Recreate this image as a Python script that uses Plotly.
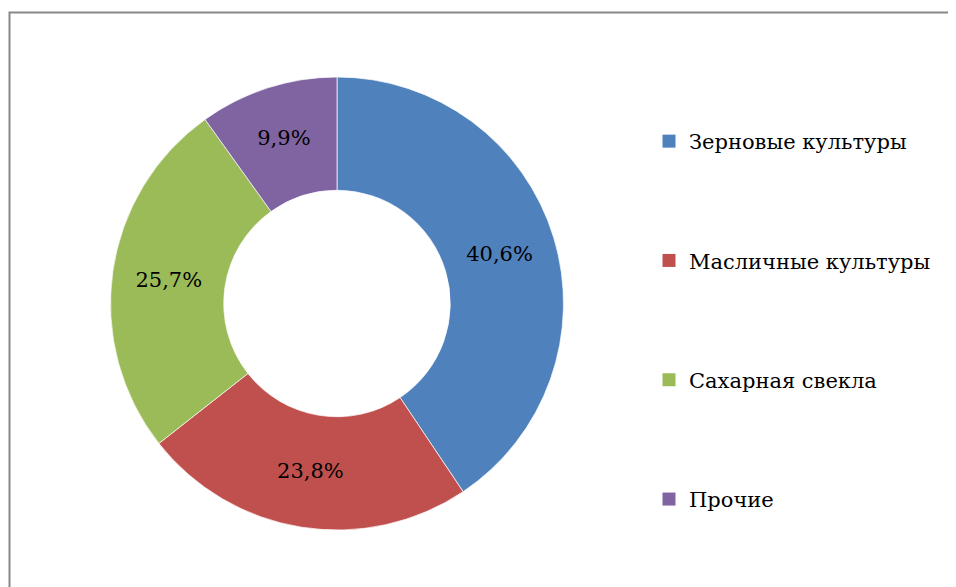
import plotly.graph_objects as go

categories = ["Зерновые культуры", "Масличные культуры", "Сахарная свекла", "Прочие"]
values = [40.6, 23.8, 25.7, 9.9]
value_labels = ["40,6%", "23,8%", "25,7%", "9,9%"]
colors = ["#4F81BD", "#C0504D", "#9BBB59", "#8064A2"]

W, H = 956, 587
OFF = 8  # page body margin offset
cx, cy, r = 337 - OFF, 303.5 - OFF, 226.5
SERIF = "DejaVu Serif"

fig = go.Figure()
fig.add_trace(go.Pie(
    labels=categories, values=values, text=value_labels,
    texttemplate="%{text}", textinfo="text",
    textposition="inside", insidetextorientation="horizontal",
    textfont=dict(family=SERIF, size=21, color="black"),
    marker=dict(colors=colors, line=dict(color="white", width=0.7)),
    hole=0.5, sort=False, direction="clockwise", rotation=0,
    showlegend=False, hoverinfo="label+percent",
    domain=dict(x=[(cx - r) / W, (cx + r) / W], y=[1 - (cy + r) / H, 1 - (cy - r) / H]),
))
for i, (c, col) in enumerate(zip(categories, colors)):
    fig.add_trace(go.Scatter(
        x=[None], y=[None], mode="markers", name=c,
        marker=dict(symbol="square", size=13, color=col),
        legendgroup=str(i), showlegend=True,
    ))

fig.update_layout(
    width=W, height=H,
    margin=dict(l=0, r=0, t=0, b=0),
    paper_bgcolor="white", plot_bgcolor="white",
    font=dict(family=SERIF),
    xaxis=dict(visible=False), yaxis=dict(visible=False),
    legend=dict(
        x=641 / W, y=1 - 113 / H, xanchor="left", yanchor="top",
        font=dict(family=SERIF, size=21, color="black"),
        tracegroupgap=89, itemwidth=30, bgcolor="rgba(0,0,0,0)",
    ),
    shapes=[dict(type="rect", xref="paper", yref="paper",
                 x0=(9.5 - OFF) / W, x1=1.2, y0=-0.2, y1=1 - (12.5 - OFF) / H,
                 line=dict(color="#888888", width=2), layer="below")],
)
fig.write_html("out.html")
